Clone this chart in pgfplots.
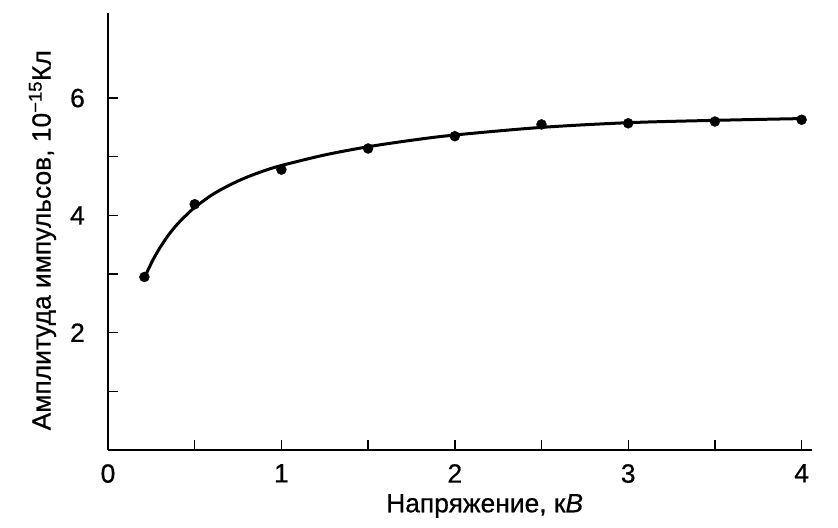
\documentclass[border=0pt]{standalone}
\usepackage{fontspec}
\setmainfont{Liberation Sans}[FakeBold=0.6]
\usepackage{pgfplots}
\pgfplotsset{compat=1.18}
\begin{document}
\begin{tikzpicture}
\begin{axis}[
  scale only axis,
  width=704bp, height=437bp,
  xmin=0, xmax=4.06, ymin=0, ymax=7.45,
  axis lines*=left,
  axis line style={line width=1.6bp},
  tick align=inside,
  major tick length=10bp,
  tick style={line width=1.4bp, black},
  xtick={0,0.5,...,4},
  xticklabels={0,,1,,2,,3,,4},
  ytick={1,2,3,4,5,6},
  yticklabels={,2,,4,,6},
  /pgf/number format/assume math mode=true,
  font=\fontsize{26.5}{30}\selectfont,
  xticklabel style={inner sep=0pt, yshift=-14bp},
  yticklabel style={inner sep=0pt, xshift=-23bp},
  xlabel={Напряжение, к\textit{В}},
  ylabel={Амплитуда импульсов, 10\textsuperscript{−15}Кл},
  xlabel style={at={(axis description cs:0.535,-0.128)}, anchor=center, inner sep=0pt},
  ylabel style={at={(axis description cs:-0.093,0.48)}, anchor=center, inner sep=0pt},
  clip=false,
]
\coordinate (O) at (axis cs:0,0);
\addplot[black, line width=3bp, smooth] coordinates {
(0.22,3.0) (0.26,3.245) (0.30,3.45) (0.35,3.67) (0.40,3.85) (0.45,4.0)
(0.5,4.135) (0.6,4.35) (0.7,4.515) (0.8,4.65) (0.9,4.76) (1.0,4.85)
(1.25,5.03) (1.5,5.17) (1.75,5.28) (2.0,5.37) (2.5,5.5) (3.0,5.58)
(3.5,5.62) (4.0,5.65)
};
\addplot[only marks, mark=*, mark size=5bp, black] coordinates {
(0.21,2.95) (0.5,4.19) (1.0,4.78) (1.5,5.14) (2.0,5.35) (2.5,5.55) (3.0,5.57) (3.5,5.60) (4.0,5.63)
};
\end{axis}
\pgfresetboundingbox
\path[use as bounding box] ([shift={(-108bp,-78bp)}]O) rectangle ++(838bp,528bp);
\end{tikzpicture}
\end{document}
